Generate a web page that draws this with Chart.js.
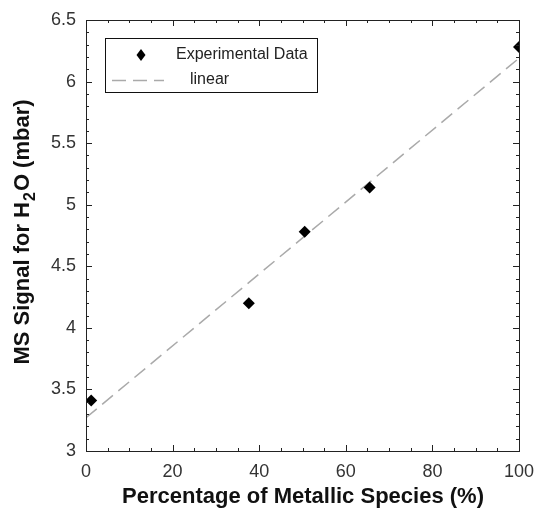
<!DOCTYPE html>
<html>
<head>
<meta charset="utf-8">
<script src="https://cdn.jsdelivr.net/npm/chart.js@4"></script>
<style>
  html, body { margin: 0; padding: 0; background: #fff; }
  canvas { display: block; }
</style>
</head>
<body>
<canvas id="myChart" width="535" height="508"></canvas>
<script>
// data
const expX = [1.2, 37.6, 50.5, 65.5, 100];
const expY = [3.41, 4.20, 4.78, 5.14, 6.28];
const fitX = [0, 100];
const fitY = [3.27, 6.19];
const xTicks = [0, 20, 40, 60, 80, 100];
const yTicks = [3, 3.5, 4, 4.5, 5, 5.5, 6, 6.5];

const font = '"Liberation Sans", Arial, Helvetica, sans-serif';

// inward ticks on all four sides + frame, axis titles, legend box
const decor = {
  id: 'decor',
  afterDraw(chart) {
    const c = chart.ctx;
    const a = chart.chartArea;
    const xs = chart.scales.x, ys = chart.scales.y;
    c.save();
    c.strokeStyle = '#222';
    c.lineWidth = 1;
    c.strokeRect(a.left + 0.5, a.top + 0.5, a.right - a.left, a.bottom - a.top);

    c.beginPath();
    for (let v = 0; v <= 100; v += 5) {
      const px = Math.round(xs.getPixelForValue(v)) + 0.5;
      const len = v % 20 === 0 ? 6 : 3;
      c.moveTo(px, a.bottom); c.lineTo(px, a.bottom - len);
      c.moveTo(px, a.top); c.lineTo(px, a.top + len);
    }
    for (let i = 0; i <= 35; i++) {
      const v = 3 + i * 0.1;
      const py = Math.round(ys.getPixelForValue(v)) + 0.5;
      const len = i % 5 === 0 ? 6 : 3;
      c.moveTo(a.left, py); c.lineTo(a.left + len, py);
      c.moveTo(a.right, py); c.lineTo(a.right - len, py);
    }
    c.stroke();

    // x title
    c.fillStyle = '#111';
    c.font = 'bold 22px ' + font;
    c.textAlign = 'center';
    c.textBaseline = 'middle';
    c.fillText('Percentage of Metallic Species (%)', (a.left + a.right) / 2 + 0.5, 497);

    // y title with subscript
    c.translate(23, 233);
    c.rotate(-Math.PI / 2);
    const p1 = 'MS Signal for H', p2 = '2', p3 = 'O (mbar)';
    c.font = 'bold 22px ' + font;
    const w1 = c.measureText(p1).width, w3 = c.measureText(p3).width;
    c.font = 'bold 16px ' + font;
    const w2 = c.measureText(p2).width;
    let x0 = -(w1 + w2 + w3) / 2;
    c.textAlign = 'left';
    c.font = 'bold 22px ' + font;
    c.fillText(p1, x0, 0);
    c.font = 'bold 16px ' + font;
    c.fillText(p2, x0 + w1 + 1, 8);
    c.font = 'bold 22px ' + font;
    c.fillText(p3, x0 + w1 + w2 + 2, 0);
    c.restore();

    // legend
    c.save();
    c.strokeStyle = '#111';
    c.lineWidth = 1;
    c.fillStyle = '#fff';
    c.fillRect(105.5, 38.5, 212, 54);
    c.strokeRect(105.5, 38.5, 212, 54);
    c.fillStyle = '#000';
    c.beginPath();
    c.moveTo(141, 49); c.lineTo(145.5, 55); c.lineTo(141, 61); c.lineTo(136.5, 55);
    c.closePath(); c.fill();
    c.strokeStyle = '#aaa';
    c.lineWidth = 1.5;
    c.setLineDash([14, 7]);
    c.beginPath(); c.moveTo(112, 80.5); c.lineTo(164, 80.5); c.stroke();
    c.setLineDash([]);
    c.fillStyle = '#222';
    c.font = '16px ' + font;
    c.textAlign = 'left';
    c.textBaseline = 'middle';
    c.fillText(chart.data.datasets[0].label, 176, 55);
    c.fillText(chart.data.datasets[1].label, 190, 80);
    c.restore();
  }
};

new Chart(document.getElementById('myChart'), {
  type: 'scatter',
  data: {
    datasets: [
      {
        label: 'Experimental Data',
        data: expX.map((x, i) => ({ x: x, y: expY[i] })),
        pointStyle: 'rectRot',
        pointRadius: 6,
        backgroundColor: '#000',
        borderColor: '#000',
        borderWidth: 0,
        showLine: false
      },
      {
        label: 'linear',
        data: fitX.map((x, i) => ({ x: x, y: fitY[i] })),
        showLine: true,
        pointRadius: 0,
        borderColor: '#aaa',
        borderWidth: 1.5,
        borderDash: [14, 7],
        fill: false
      }
    ]
  },
  options: {
    responsive: false,
    animation: false,
    layout: { padding: { top: 20, right: 16, left: 0, bottom: 0 } },
    plugins: { legend: { display: false }, tooltip: { enabled: false } },
    scales: {
      x: {
        type: 'linear', min: 0, max: 100,
        afterBuildTicks: s => { s.ticks = xTicks.map(v => ({ value: v })); },
        afterFit: s => { s.height = 57; s.paddingLeft = 0; s.paddingRight = 0; },
        grid: { display: false, drawTicks: false },
        border: { display: false },
        ticks: { color: '#333', padding: 10, font: { size: 18, family: font }, callback: v => String(v) }
      },
      y: {
        type: 'linear', min: 3, max: 6.5,
        afterBuildTicks: s => { s.ticks = yTicks.map(v => ({ value: v })); },
        afterFit: s => { s.width = 86; s.paddingTop = 0; s.paddingBottom = 0; },
        grid: { display: false, drawTicks: false },
        border: { display: false },
        ticks: { color: '#333', padding: 10, font: { size: 18, family: font }, callback: v => String(v) }
      }
    }
  },
  plugins: [decor]
});
</script>
</body>
</html>
